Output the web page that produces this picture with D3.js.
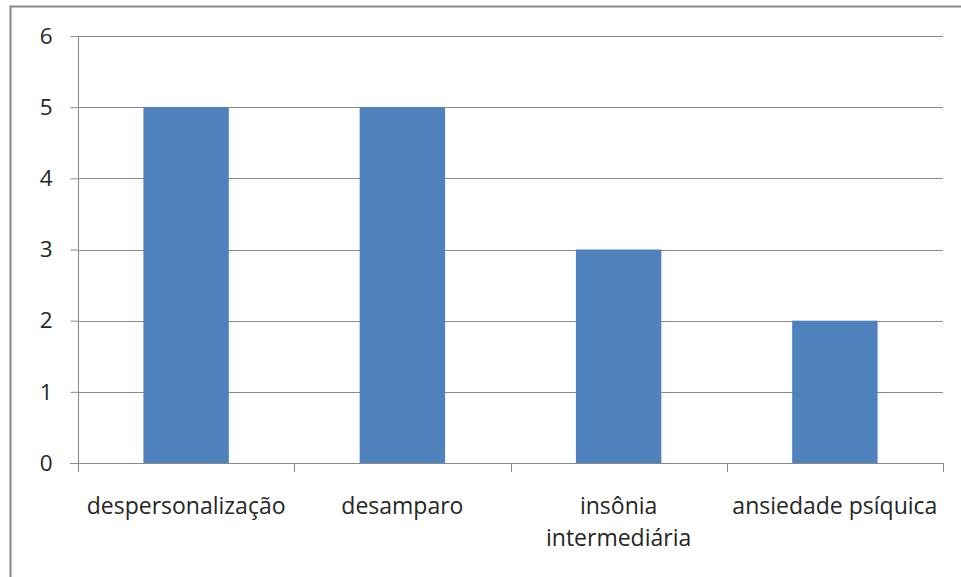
<!DOCTYPE html>
<html>
<head>
<meta charset="utf-8">
<script src="https://cdn.jsdelivr.net/npm/d3@7"></script>
<style>
  html, body { margin: 0; padding: 0; background: #fff; }
  svg { display: block; }
  text { font-family: "Open Sans", Lato, sans-serif; fill: #262626; }
</style>
</head>
<body>
<svg id="chart" width="961" height="577"></svg>
<script>
// Sintomas e número de ocorrências
const categories = [["despersonalização"], ["desamparo"], ["insônia", "intermediária"], ["ansiedade psíquica"]];
const values = [5, 5, 3, 2];
const yTicks = [0, 1, 2, 3, 4, 5, 6];

const svg = d3.select("#chart");
const W = 961, H = 577;
const plot = { left: 78, right: 943, top: 36, bottom: 463 };

// outer frame
svg.append("rect")
  .attr("x", 10.5).attr("y", 6.5)
  .attr("width", W + 10).attr("height", H + 10)
  .attr("fill", "none").attr("stroke", "#868686").attr("stroke-width", 2);

const keys = categories.map(c => c.join(" "));
const x = d3.scaleBand().domain(keys).range([plot.left, plot.right]).padding(0);
const y = d3.scaleLinear().domain([0, 6]).range([plot.bottom, plot.top]);

// horizontal gridlines
svg.append("g").selectAll("line").data(yTicks.filter(t => t > 0)).join("line")
  .attr("x1", plot.left).attr("x2", plot.right)
  .attr("y1", d => Math.round(y(d)) + 0.5).attr("y2", d => Math.round(y(d)) + 0.5)
  .attr("stroke", "#898989").attr("stroke-width", 1);

// bars
const barW = x.bandwidth() * 0.395;
svg.append("g").selectAll("rect").data(values).join("rect")
  .attr("x", (d, i) => x(keys[i]) + (x.bandwidth() - barW) / 2)
  .attr("y", d => y(d))
  .attr("width", barW)
  .attr("height", d => y(0) - y(d))
  .attr("fill", "#4f81bd");

// y axis
const yAxis = svg.append("g").attr("transform", `translate(${plot.left + 0.5},0)`)
  .call(d3.axisLeft(y).tickValues(yTicks).tickSize(8).tickPadding(18).tickFormat(d3.format("d")));
yAxis.select(".domain").attr("stroke", "#898989").attr("d", `M0,${plot.top}V${plot.bottom}`);
yAxis.selectAll(".tick line").attr("stroke", "#898989");
yAxis.selectAll(".tick text").attr("font-size", 22.5).attr("fill", "#262626")
  .style("font-family", "'Open Sans', Lato, sans-serif");

// x axis baseline and category separators
const xAxis = svg.append("g");
xAxis.append("line")
  .attr("x1", plot.left - 8).attr("x2", plot.right)
  .attr("y1", plot.bottom + 0.5).attr("y2", plot.bottom + 0.5)
  .attr("stroke", "#898989");
const edges = keys.map(k => x(k)).concat([plot.right]);
xAxis.selectAll("line.sep").data(edges).join("line").attr("class", "sep")
  .attr("x1", d => Math.round(d) + 0.5).attr("x2", d => Math.round(d) + 0.5)
  .attr("y1", plot.bottom).attr("y2", plot.bottom + 9)
  .attr("stroke", "#898989");

// category labels
categories.forEach((lines, i) => {
  const t = xAxis.append("text")
    .attr("x", x(keys[i]) + x.bandwidth() / 2)
    .attr("y", 514)
    .attr("text-anchor", "middle")
    .attr("font-size", 23);
  lines.forEach((ln, j) => t.append("tspan")
    .attr("x", x(keys[i]) + x.bandwidth() / 2)
    .attr("dy", j === 0 ? 0 : 32)
    .text(ln));
});
</script>
</body>
</html>
